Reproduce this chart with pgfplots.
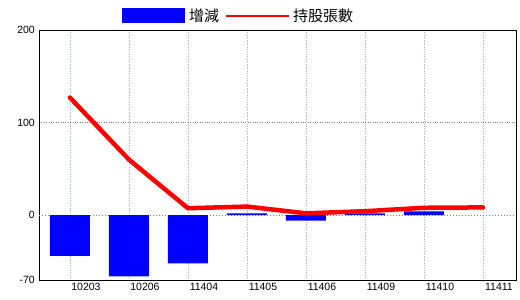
\documentclass[border=0pt]{standalone}
\usepackage{fontspec}
\setmainfont{Liberation Sans}
\newfontfamily\cjk{Noto Sans CJK TC}
\usepackage{pgfplots}
\pgfplotsset{compat=1.18}
\definecolor{gridblue}{RGB}{150,180,200}
\begin{document}
\begin{tikzpicture}
\begin{axis}[
  at={(0,0)}, anchor=south west,
  scale only axis, width=477pt, height=250pt,
  xmin=-0.525, xmax=7.56, ymin=-70, ymax=200,
  xtick={0,1,2,3,4,5,6,7},
  xticklabels={10203,10206,11404,11405,11406,11409,11410,11411},
  ytick={-70,100,200},
  extra y ticks={0},
  extra y tick style={grid=major, major grid style={black, solid, line width=1pt}},
  major tick length=0pt,
  xmajorgrids, ymajorgrids,
  x grid style={gridblue, dotted, line width=0.8pt},
  y grid style={gray, dotted, line width=0.8pt},
  axis line style={black, line width=0.8pt},
  /pgf/number format/assume math mode=true,
  tick label style={font=\fontsize{10.5}{12}\selectfont},
  xticklabel style={anchor=north, inner sep=0pt, yshift=-3pt, xshift=16pt},
  yticklabel style={anchor=east, inner sep=0pt, xshift=-4pt},
  legend columns=-1,
  legend style={draw=none, fill=none, at={(0.174,1)}, anchor=south west, yshift=5pt,
    inner sep=0pt, font=\cjk\fontsize{15}{16}\selectfont,
    /tikz/every even column/.append style={column sep=5pt},
    /tikz/every odd column/.append style={column sep=2pt}},
]
\addplot[fill=blue, draw=none, ybar, bar width=40pt,
  legend image code/.code={\path[fill=blue, draw=none] (0pt,-7.5pt) rectangle (63pt,7.5pt);}]
  coordinates {(0,-44) (1,-66) (2,-52) (3,2) (4,-6) (5,2) (6,4)};
\addlegendentry{增減}
\addplot[red, line width=4.5pt, line cap=round, line join=round,
  legend image code/.code={\path[fill=red, draw=none] (0pt,-0.9pt) rectangle (63pt,0.9pt);}]
  coordinates {(0,127) (1,60) (2,7.5) (3,9.3) (4,2) (5,4.3) (6,8) (7,8.4)};
\addlegendentry{持股張數}
\end{axis}
\pgfresetboundingbox
\path (-39pt,-20pt) rectangle (481pt,280pt);
\end{tikzpicture}
\end{document}
